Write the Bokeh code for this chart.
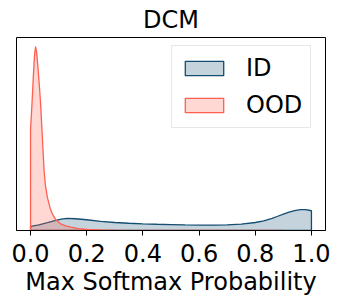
from bokeh.plotting import figure
from bokeh.models import Range1d, Legend, LegendItem, FixedTicker
from bokeh.embed import file_html
from bokeh.resources import INLINE

# Kernel density estimates (x = max softmax probability)
id_x = [0, 0.03, 0.06, 0.09, 0.11, 0.13, 0.16, 0.2, 0.25, 0.3, 0.35, 0.4, 0.45, 0.5,
        0.55, 0.6, 0.65, 0.7, 0.75, 0.8, 0.83, 0.86, 0.88, 0.9, 0.92, 0.94, 0.96, 0.98, 1.0]
id_d = [0.44, 0.62, 0.85, 1.1, 1.24, 1.31, 1.28, 1.17, 1.0, 0.87, 0.79, 0.73, 0.68, 0.65,
        0.61, 0.58, 0.59, 0.62, 0.7, 0.87, 1.05, 1.32, 1.55, 1.78, 2.0, 2.17, 2.28, 2.27, 2.15]

ood_x = [0, 0.005, 0.01, 0.014, 0.018, 0.022, 0.027, 0.032, 0.036, 0.04, 0.044, 0.048,
         0.053, 0.06, 0.07, 0.078, 0.09, 0.107, 0.125, 0.143, 0.17, 0.2, 0.25, 0.3, 0.4,
         0.5, 0.6, 0.7, 0.8, 0.9]
ood_d = [11.0, 13.7, 16.8, 19.0, 20.0, 19.3, 17.5, 15.5, 13.7, 11.3, 9.0, 6.6,
         4.9, 3.6, 2.4, 1.8, 1.15, 0.73, 0.5, 0.36, 0.2, 0.12, 0.06, 0.03, 0.02,
         0.01, 0.005, 0.003, 0.002, 0.001]

series_names = ["ID", "OOD"]
x_ticks = [0.0, 0.2, 0.4, 0.6, 0.8, 1.0]
tick_labels = ["0.0", "0.2", "0.4", "0.6", "0.8", "1.0"]
title_text = "DCM"
x_label = "Max Softmax Probability"

ID_COLOR = "#134e72"
OOD_COLOR = "#ff5e50"
FONT = "DejaVu Sans"
FS = "24px"

p = figure(frame_width=309, frame_height=193, output_backend="svg", toolbar_location=None,
           x_range=Range1d(-0.05, 1.05), y_range=Range1d(0, max(ood_d) * 1.05),
           min_border_left=16, min_border_right=15, min_border_top=37, min_border_bottom=73)

p.title.text = title_text
p.title.align = "center"
p.title.text_font = FONT
p.title.text_font_size = FS
p.title.text_font_style = "normal"
p.title.text_color = "black"
p.title.standoff = 7

p.outline_line_color = "black"
p.outline_line_width = 1
p.outline_line_alpha = 1
p.xgrid.visible = False
p.ygrid.visible = False
p.yaxis.visible = False

ax = p.xaxis[0]
ax.ticker = FixedTicker(ticks=x_ticks)
ax.major_label_overrides = {t: l for t, l in zip(x_ticks, tick_labels)}
ax.axis_label = x_label
ax.axis_label_text_font = FONT
ax.axis_label_text_font_size = FS
ax.axis_label_text_font_style = "normal"
ax.axis_label_text_color = "black"
ax.axis_label_standoff = 3
ax.major_label_text_font = FONT
ax.major_label_text_font_size = FS
ax.major_label_text_color = "black"
ax.major_label_standoff = 8
ax.major_tick_out = 5
ax.major_tick_in = 0
ax.minor_tick_line_color = None
ax.axis_line_color = "black"
ax.major_tick_line_color = "black"

id_xs = [id_x[0]] + id_x + [id_x[-1]]
id_ys = [0] + id_d + [0]
ood_xs = [ood_x[0]] + ood_x + [ood_x[-1]]
ood_ys = [0] + ood_d + [0]

r_id = p.patch(id_xs, id_ys, fill_color=ID_COLOR, fill_alpha=0.25,
               line_color=ID_COLOR, line_width=1.3)
r_ood = p.patch(ood_xs, ood_ys, fill_color=OOD_COLOR, fill_alpha=0.25,
                line_color=OOD_COLOR, line_width=1.3)

legend = Legend(items=[LegendItem(label=series_names[0], renderers=[r_id]),
                       LegendItem(label=series_names[1], renderers=[r_ood])],
                location=(155, 102))
legend.label_text_font = FONT
legend.label_text_font_size = FS
legend.label_text_color = "black"
legend.glyph_width = 48
legend.glyph_height = 18
legend.label_height = 27
legend.label_standoff = 18
legend.spacing = 9
legend.padding = 8
legend.margin = 0
legend.border_line_color = "#d0d0d0"
legend.border_line_width = 1
legend.background_fill_color = "white"
legend.background_fill_alpha = 0.8
p.add_layout(legend, "center")

open("out.html", "w").write(file_html(p, INLINE))
